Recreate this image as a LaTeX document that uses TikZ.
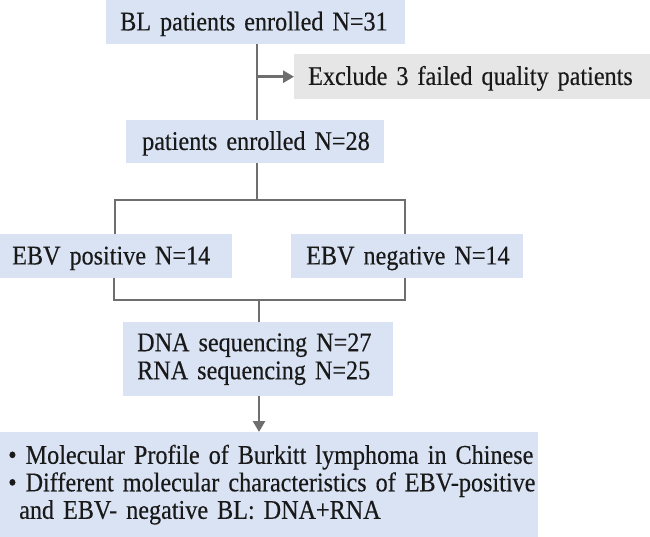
\documentclass[tikz,border=0pt]{standalone}
\usepackage{fontspec}
\setmainfont{Liberation Serif}[FakeStretch=0.895,FakeBold=0.35]
\usetikzlibrary{arrows.meta,calc}
\definecolor{boxblue}{HTML}{DAE3F3}
\definecolor{boxgray}{HTML}{E7E6E6}
\definecolor{linegray}{HTML}{6E6E6E}
\tikzset{
  box/.style={anchor=north west, inner ysep=0pt, inner xsep=14pt, align=left,
    font=\fontsize{27}{28}\selectfont, text=black!90},
  bluebox/.style={box, fill=boxblue},
  graybox/.style={box, fill=boxgray},
  oneline/.style={text height=18.5pt, text depth=2pt},
  conn/.style={draw=linegray, line width=2.7pt},
  arr/.style={conn, -{Triangle[length=11pt,width=12pt]}}
}
\begin{document}
\begin{tikzpicture}[x=1pt,y=-1pt]
\useasboundingbox (0,0) rectangle (650,537);
\node[bluebox, oneline, text width=271pt, minimum height=44pt] (b1) at (106,0) {\mbox{BL patients enrolled N=31}};
\node[graybox, oneline, text width=328pt, minimum height=45pt] (ex) at (294,54) {\mbox{Exclude 3 failed quality patients}};
\node[bluebox, oneline, inner xsep=16pt, text width=226pt, minimum height=43pt] (b2) at (126,120) {\mbox{patients enrolled N=28}};
\node[bluebox, oneline, inner xsep=12pt, text width=208pt, minimum height=44pt] (pos) at (0,234) {\mbox{EBV positive N=14}};
\node[bluebox, oneline, inner xsep=15pt, text width=202pt, minimum height=44pt] (neg) at (291,234) {\mbox{EBV negative N=14}};
\node[bluebox, text width=242pt, minimum height=74pt] (dna) at (123,322) {\mbox{DNA sequencing N=27}\\\mbox{RNA sequencing N=25}};
\node[bluebox, inner xsep=8pt, font=\fontsize{27}{27.5}\selectfont, text width=522pt, minimum height=105pt] (res) at (0,432)
  {\mbox{\textbullet\ Molecular Profile of Burkitt lymphoma in Chinese}\\
   \mbox{\textbullet\ Different molecular characteristics of EBV-positive}\\
   \mbox{\hspace*{11pt}and EBV- negative BL: DNA+RNA}};
\coordinate (t1) at (257,0);
\coordinate (t2) at (259,0);
\coordinate (bL) at (115,200);
\coordinate (bR) at (405,200);
\coordinate (cL) at (114,300);
\coordinate (cR) at (405,300);
\draw[conn] (b1.south -| t1) -- (b2.north -| t1);
\draw[arr] (t1 |- ex.west) -- (ex.west);
\draw[conn] (b2.south -| t1) -- (t1 |- bL);
\draw[conn] (pos.north -| bL) -- (bL) -- (bR) -- (neg.north -| bR);
\draw[conn] (pos.south -| cL) -- (cL) -- (cR) -- (neg.south -| cR);
\draw[conn] (t2 |- cL) -- (dna.north -| t2);
\draw[arr] (dna.south -| t2) -- (res.north -| t2);
\end{tikzpicture}
\end{document}
